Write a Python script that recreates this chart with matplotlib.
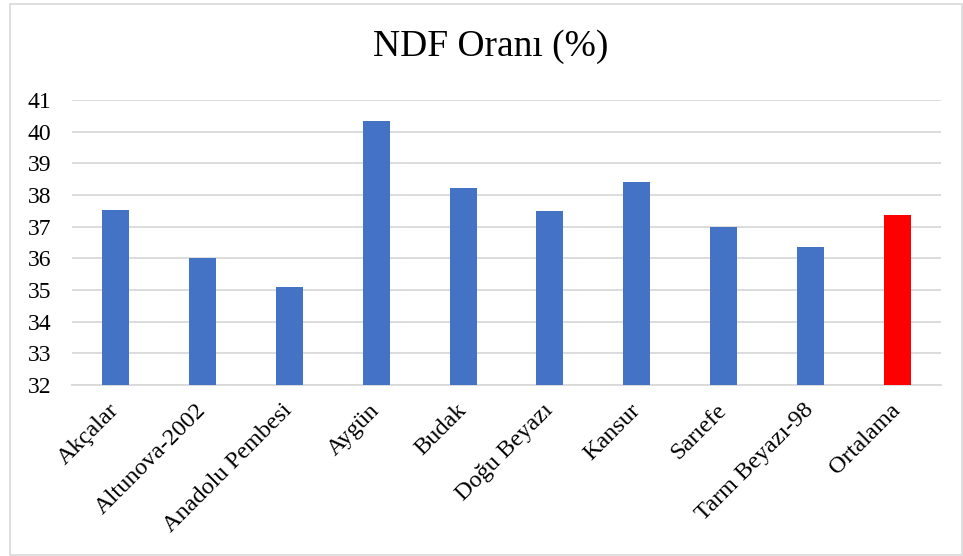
import matplotlib
matplotlib.use("Agg")
import matplotlib.pyplot as plt
from matplotlib.patches import Rectangle

# NDF ratio per cultivar, plus the overall mean
categories = ["Akçalar", "Altunova-2002", "Anadolu Pembesi", "Aygün", "Budak",
              "Doğu Beyazı", "Kansur", "Sarıefe", "Tarm Beyazı-98", "Ortalama"]
values = [37.54, 36.01, 35.08, 40.35, 38.22, 37.48, 38.42, 36.98, 36.35, 37.38]
bar_colors = ["#4472C4"] * 9 + ["#FF0000"]
y_ticks = [32, 33, 34, 35, 36, 37, 38, 39, 40, 41]
title = "NDF Oranı (%)"

plt.rcParams["font.family"] = ["Liberation Serif", "DejaVu Serif"]

W, H = 963, 556
fig = plt.figure(figsize=(W / 100, H / 100), dpi=100)
fig.patch.set_facecolor("white")

# chart-area frame
fig.patches.append(Rectangle((10 / W, 1 - 555 / H), (962 - 10) / W, (555 - 4) / H,
                             transform=fig.transFigure, fill=False,
                             edgecolor="#d9d9d9", linewidth=1.2))

left, right, top, bottom = 72, 941, 100, 385
ax = fig.add_axes([left / W, 1 - bottom / H, (right - left) / W, (bottom - top) / H])

x = range(len(categories))
ax.bar(x, [v - y_ticks[0] for v in values], bottom=y_ticks[0], width=0.31,
       color=bar_colors, zorder=3)

ax.set_xlim(-0.5, len(categories) - 0.5)
ax.set_ylim(y_ticks[0], y_ticks[-1])
ax.set_yticks(y_ticks)
ax.set_yticklabels([str(t) for t in y_ticks], fontsize=17, color="black")
ax.yaxis.grid(True, color="#d9d9d9", linewidth=1.3, zorder=0)
ax.set_axisbelow(True)
ax.tick_params(axis="y", length=0, pad=15)

ax.set_xticks(list(x))
ax.set_xticklabels(categories, fontsize=17.5, rotation=45, ha="right",
                   va="center", rotation_mode="anchor", color="black")
ax.tick_params(axis="x", length=0, pad=16)

for s in ["top", "right", "left"]:
    ax.spines[s].set_visible(False)
ax.spines["bottom"].set_color("#d9d9d9")
ax.spines["bottom"].set_linewidth(1.3)

fig.text(491 / W, 1 - 47 / H, title, fontsize=27, ha="center", va="center",
         color="black")

fig.savefig("out.png", dpi=100)
